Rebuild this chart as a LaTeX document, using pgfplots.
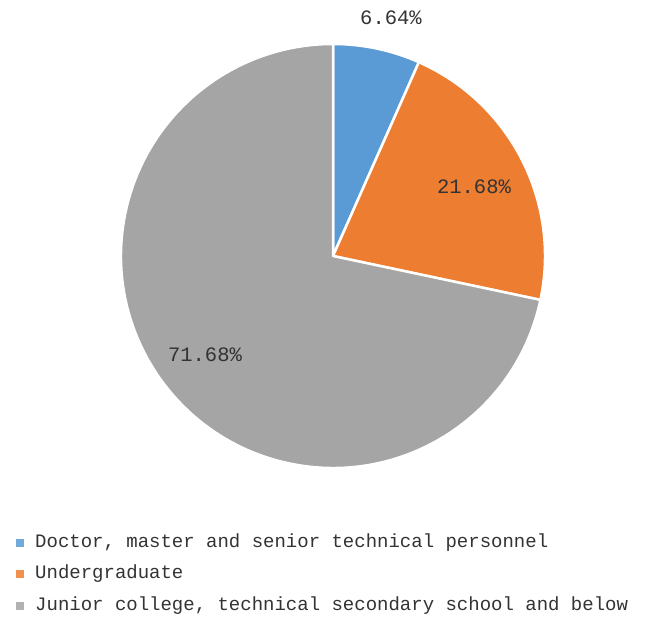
\documentclass[border=0pt]{standalone}
\usepackage{pgfplots}
\pgfplotsset{compat=1.18}
\usepackage{pgfplotstable}
\usepackage{fontspec}
\setmainfont{Liberation Mono}
\definecolor{cA}{HTML}{5B9BD5}
\definecolor{cB}{HTML}{ED7D31}
\definecolor{cC}{HTML}{A5A5A5}
\pgfplotstableread{
share
6.64
21.68
71.68
}\piedata
\pgfplotstablegetelem{0}{share}\of\piedata \let\sA\pgfplotsretval
\pgfplotstablegetelem{1}{share}\of\piedata \let\sB\pgfplotsretval
\pgfplotstablegetelem{2}{share}\of\piedata \let\sC\pgfplotsretval
\pgfmathsetmacro\aA{90}
\pgfmathsetmacro\aB{90-\sA*3.6}
\pgfmathsetmacro\aC{\aB-\sB*3.6}
\pgfmathsetmacro\aD{\aC-\sC*3.6}
\begin{document}
\begin{tikzpicture}
\begin{axis}[scale only axis, width=667pt, height=628pt,
  xmin=-333, xmax=334, ymin=-372, ymax=256, hide axis, clip=false]
\path (axis cs:-333,-372) rectangle (axis cs:334,256);
\fill[cA, draw=white, line width=2.5pt, line join=round] (axis cs:0,0) -- +(\aA:212pt) arc[start angle=\aA, end angle=\aB, radius=212pt] -- cycle;
\fill[cB, draw=white, line width=2.5pt, line join=round] (axis cs:0,0) -- +(\aB:212pt) arc[start angle=\aB, end angle=\aC, radius=212pt] -- cycle;
\fill[cC, draw=white, line width=2.5pt, line join=round] (axis cs:0,0) -- +(\aC:212pt) arc[start angle=\aC, end angle=\aD, radius=212pt] -- cycle;
\node[font=\fontsize{20.5}{24}\selectfont, text=black!80] at (axis cs:58,238) {\sA\%};
\node[font=\fontsize{20.5}{24}\selectfont, text=black!80] at (axis cs:141,69) {\sB\%};
\node[font=\fontsize{20.5}{24}\selectfont, text=black!80] at (axis cs:-128,-99) {\sC\%};
\fill[cA!85!white] (axis cs:-317,-291) rectangle (axis cs:-309,-283);
\fill[cB!85!white] (axis cs:-317,-322) rectangle (axis cs:-309,-314);
\fill[cC!85!white] (axis cs:-317,-354) rectangle (axis cs:-309,-346);
\node[anchor=west, inner sep=0pt, font=\fontsize{19}{22}\selectfont, text=black!80] at (axis cs:-298,-287) {Doctor, master and senior technical personnel};
\node[anchor=west, inner sep=0pt, font=\fontsize{19}{22}\selectfont, text=black!80] at (axis cs:-298,-318) {Undergraduate};
\node[anchor=west, inner sep=0pt, font=\fontsize{19}{22}\selectfont, text=black!80] at (axis cs:-298,-350) {Junior college, technical secondary school and below};
\end{axis}
\end{tikzpicture}
\end{document}
